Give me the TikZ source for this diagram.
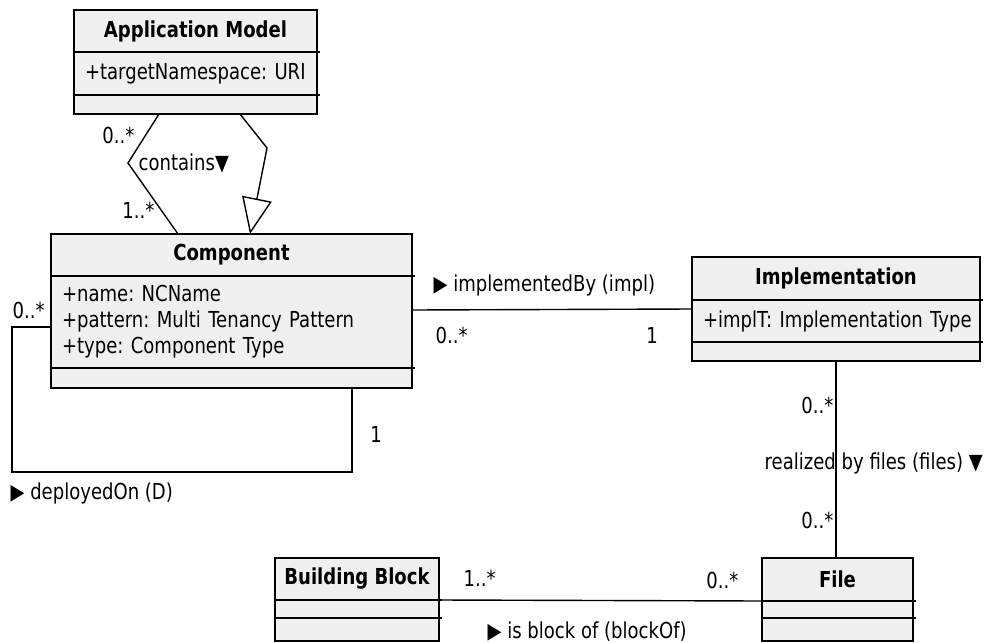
\documentclass[tikz,border=0pt]{standalone}
\usepackage{fontspec}
\setmainfont{DejaVu Sans}[FakeStretch=0.82]
\usepackage{tikz}
\usetikzlibrary{positioning,arrows.meta,calc}
\definecolor{boxgray}{HTML}{F0F0F0}
\newcommand{\umlfont}{\fontsize{22pt}{26pt}\selectfont}
\frenchspacing

\begin{document}
\begin{tikzpicture}[x=1pt,y=-1pt,line width=1.4pt,
    every node/.style={font=\umlfont},
    hdr/.style={draw,fill=boxgray,outer sep=0pt,inner sep=0pt,anchor=north west,font=\umlfont\bfseries},
    attr/.style={draw,fill=boxgray,outer sep=0pt,inner xsep=11pt,inner ysep=0pt,align=left},
    mult/.style={inner sep=0pt}]
                      \useasboundingbox (0,0) rectangle (994,643);

                      % classes
                      \node[hdr,minimum width=243pt,minimum height=42pt] (am) at (74,10) {Application Model};
                      \node[attr,below=0pt of am,text width=221pt,minimum height=43pt] (amattr) {\mbox{+targetNamespace: URI}};
                      \node[attr,below=0pt of amattr,text width=221pt,minimum height=19pt] (amops) {};

                      \node[hdr,minimum width=361pt,minimum height=42pt] (comp) at (51,234) {Component};
                      \node[attr,below=0pt of comp,text width=339pt,minimum height=92pt] (compattr) {+name: NCName\\+pattern: Multi Tenancy Pattern\\+type: Component Type};
                      \node[attr,below=0pt of compattr,text width=339pt,minimum height=20pt] (compops) {};

                      \node[hdr,minimum width=288pt,minimum height=43pt] (impl) at (692,257) {Implementation};
                      \node[attr,below=0pt of impl,text width=266pt,minimum height=42pt] (implattr) {\mbox{+implT: Implementation Type}};
                      \node[attr,below=0pt of implattr,text width=266pt,minimum height=19pt] (implops) {};

                      \node[hdr,minimum width=164pt,minimum height=42pt] (bb) at (275,558) {Building Block};
                      \node[attr,below=0pt of bb,text width=142pt,minimum height=18pt] (bbattr) {};
                      \node[attr,below=0pt of bbattr,text width=142pt,minimum height=23pt] (bbops) {};

                      \node[hdr,minimum width=151pt,minimum height=43pt] (file) at (762,558) {File};
                      \node[attr,below=0pt of file,text width=129pt,minimum height=17pt] (fileattr) {};
                      \node[attr,below=0pt of fileattr,text width=129pt,minimum height=23pt] (fileops) {};

                      \foreach \n in {am,amattr,comp,compattr,impl,implattr,bb,bbattr,file,fileattr}
                        \draw (\n.south east) -- ++(3,0);

                      % connectors
                      \draw ([xshift=85pt]amops.south west) -- (128,163) -- ([xshift=127pt]comp.north west);
                      \draw[-{Triangle[open,length=36pt,width=30pt]}] ([xshift=166pt]amops.south west) -- (267,148) -- ([xshift=199pt]comp.north west);
                      \draw ([yshift=-5pt]compattr.west) -- (12,327) -- (12,472) -- (352,472) -- ([xshift=301pt]compops.south west);
                      \draw ([yshift=12pt]compattr.east) -- ([yshift=12pt]implattr.west);
                      \draw (implops.south) -- (implops.south |- file.north);
                      \draw (bb.south east) -- (file.south west);

                      % labels
                      \node[mult,anchor=east] (l1) at (135,135) {0..*};
                      \node[mult,anchor=west] (l2) at (138,163) {contains▼};
                      \node[mult,anchor=east] (l3) at (155,210) {1..*};
                      \node[mult,anchor=west] (l4) at (12,310) {0..*};
                      \node[mult] (l5) at (376,434) {1};
                      \node[mult,anchor=west] (l6) at (10,493) {▶ deployedOn (D)};
                      \node[mult,anchor=west] (l7) at (433,285) {▶ implementedBy (impl)};
                      \node[mult,anchor=west] (l8) at (435,335) {0..*};
                      \node[mult] (l9) at (652,335) {1};
                      \node[mult,anchor=east] (l10) at (834,405) {0..*};
                      \node[mult,anchor=west] (l11) at (764,463) {realized by files (files) ▼};
                      \node[mult,anchor=east] (l12) at (834,520) {0..*};
                      \node[mult,anchor=west] (l13) at (463,578) {1..*};
                      \node[mult,anchor=east] (l14) at (739,580) {0..*};
                      \node[mult,anchor=west] (l15) at (487,632) {▶ is block of (blockOf)};
                    \end{tikzpicture}
\end{document}
